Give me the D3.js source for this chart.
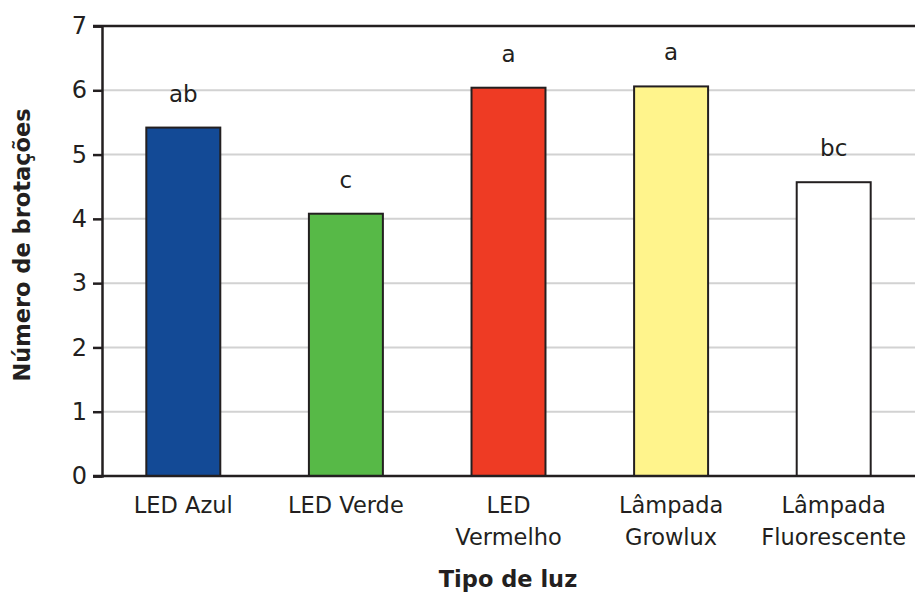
<!DOCTYPE html>
<html>
<head>
<meta charset="utf-8">
<script src="https://cdn.jsdelivr.net/npm/d3@7"></script>
<style>
  body { margin: 0; background: #fff; }
  text { font-family: "DejaVu Sans", sans-serif; fill: #231f20; }
</style>
</head>
<body>
<svg id="chart" width="915" height="595"></svg>
<script>
	"use strict";

	// data
	var categories = ["LED Azul", "LED Verde", "LED Vermelho", "Lâmpada Growlux", "Lâmpada Fluorescente"];
	var cat_lines = [["LED Azul"], ["LED Verde"], ["LED", "Vermelho"], ["Lâmpada", "Growlux"], ["Lâmpada", "Fluorescente"]];
	var values = [5.42, 4.08, 6.04, 6.06, 4.57];
	var letters = ["ab", "c", "a", "a", "bc"];
	var bar_colors = ["#134a96", "#57b947", "#ee3b24", "#fff48c", "#ffffff"];
	var y_ticks = [0, 1, 2, 3, 4, 5, 6, 7];

	var margin = {left: 102, right: 0, top: 26, bottom: 119};
	var width = 915, height = 595;

	var svg = d3.select("#chart");

	var x = d3.scaleBand().domain(categories)
		.range([margin.left, width - margin.right])
		.paddingInner(0.545).paddingOuter(0.2725);

	var y = d3.scaleLinear().domain([0, 7]).range([height - margin.bottom, margin.top]);

	// gridlines
	svg.append("g").selectAll("line").data(y_ticks.slice(1, 7)).enter().append("line")
		.attr("x1", margin.left).attr("x2", width)
		.attr("y1", function(d){ return y(d); }).attr("y2", function(d){ return y(d); })
		.attr("stroke", "#d2d2d2").attr("stroke-width", 2);

	// bars
	svg.append("g").selectAll("rect").data(values).enter().append("rect")
		.attr("x", function(d, i){ return x(categories[i]); })
		.attr("y", function(d){ return y(d); })
		.attr("width", x.bandwidth())
		.attr("height", function(d){ return y(0) - y(d); })
		.attr("fill", function(d, i){ return bar_colors[i]; })
		.attr("stroke", "#231f20").attr("stroke-width", 2);

	// significance letters
	svg.append("g").selectAll("text").data(values).enter().append("text")
		.attr("x", function(d, i){ return x(categories[i]) + x.bandwidth() / 2; })
		.attr("y", function(d){ return y(d) - 26; })
		.attr("text-anchor", "middle")
		.attr("font-size", 23)
		.text(function(d, i){ return letters[i]; });

	// top and bottom lines
	svg.append("line").attr("x1", margin.left - 9).attr("x2", width)
		.attr("y1", y(7)).attr("y2", y(7)).attr("stroke", "#231f20").attr("stroke-width", 2.5);
	svg.append("line").attr("x1", margin.left - 9).attr("x2", width)
		.attr("y1", y(0)).attr("y2", y(0)).attr("stroke", "#231f20").attr("stroke-width", 2.5);

	// y axis
	var y_axis = svg.append("g").attr("transform", "translate(" + margin.left + ",0)")
		.call(d3.axisLeft(y).tickValues(y_ticks).tickSize(9).tickPadding(6).tickFormat(d3.format("d")));
	y_axis.select(".domain").attr("stroke", "#231f20").attr("stroke-width", 2.5);
	y_axis.selectAll(".tick line").attr("stroke", "#231f20").attr("stroke-width", 2.5);
	y_axis.selectAll(".tick text").attr("font-size", 24).attr("font-family", "DejaVu Sans, sans-serif").attr("fill", "#231f20");

	// x labels
	var xl = svg.append("g").selectAll("text").data(categories).enter().append("text")
		.attr("text-anchor", "middle")
		.attr("font-size", 22.5)
		.attr("x", function(d){ return x(d) + x.bandwidth() / 2; })
		.attr("y", 513);
	xl.selectAll("tspan").data(function(d, i){ return cat_lines[i]; }).enter().append("tspan")
		.attr("x", function(){ var p = this.parentNode; return p.getAttribute("x"); })
		.attr("dy", function(d, i){ return i === 0 ? 0 : 32; })
		.text(function(d){ return d; });

	// axis titles
	svg.append("text").attr("x", 508).attr("y", 587).attr("text-anchor", "middle")
		.attr("font-size", 22.5).attr("font-weight", "bold").text("Tipo de luz");
	svg.append("text").attr("transform", "translate(30," + 245 + ") rotate(-90)")
		.attr("text-anchor", "middle").attr("font-size", 22.5).attr("font-weight", "bold")
		.text("Número de brotações");
</script>
</body>
</html>
